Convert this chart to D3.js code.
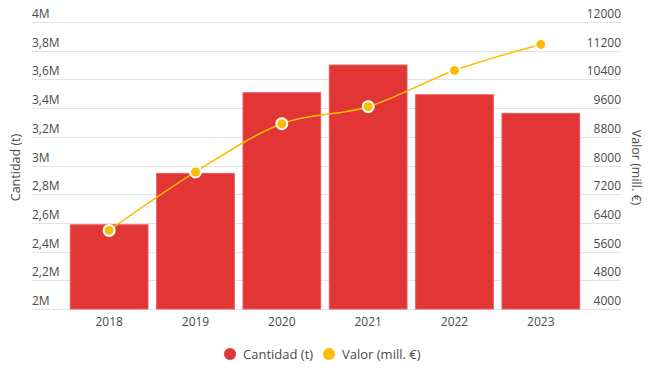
<!DOCTYPE html>
<html>
<head>
<meta charset="utf-8">
<script src="https://cdn.jsdelivr.net/npm/d3@7"></script>
<style>
  body { margin: 0; background: #fff; }
  svg { font-family: "Open Sans", sans-serif; }
</style>
</head>
<body>
<div class="chart"></div>
<script>
const years = ["2018", "2019", "2020", "2021", "2022", "2023"]
const cantidad = [2587000, 2945000, 3507000, 3700000, 3493000, 3363000]
const valor = [6190, 7820, 9165, 9640, 10650, 11375]
const leftTicks = [2e6, 2.2e6, 2.4e6, 2.6e6, 2.8e6, 3e6, 3.2e6, 3.4e6, 3.6e6, 3.8e6, 4e6]
const rightTicks = [4000, 4800, 5600, 6400, 7200, 8000, 8800, 9600, 10400, 11200, 12000]

const w = 650
const h = 370
const gridLeft = 32
const gridRight = 621
const plotTop = 22
const plotBottom = 309
const textColor = "#4a4a4a"
const red = "#e23535"
const yellow = "#fcbc00"

const svg = d3.select(".chart").append("svg").attr("width", w).attr("height", h)

const x = d3.scaleBand().domain(years).range([66, 584]).paddingInner(0.1).paddingOuter(0.05)
const yL = d3.scaleLinear().domain([2e6, 4e6]).range([plotBottom, plotTop])
const yR = d3.scaleLinear().domain([4000, 12000]).range([plotBottom, plotTop])

const fmtM = d => (d / 1e6).toString().replace(".", ",") + "M"

// grid + tick labels
svg.append("g").selectAll("line")
  .data(leftTicks)
  .enter()
  .append("line")
  .attr("x1", gridLeft).attr("x2", gridRight)
  .attr("y1", d => Math.round(yL(d)) + 0.5).attr("y2", d => Math.round(yL(d)) + 0.5)
  .attr("stroke", "#e3e3e3").attr("stroke-width", 1)

svg.append("g").selectAll("text")
  .data(leftTicks)
  .enter()
  .append("text")
  .text(fmtM)
  .attr("x", gridLeft)
  .attr("y", d => yL(d) - 4)
  .attr("font-size", 12)
  .attr("fill", textColor)

svg.append("g").selectAll("text")
  .data(rightTicks)
  .enter()
  .append("text")
  .text(d => d)
  .attr("x", gridRight)
  .attr("y", d => yR(d) - 4)
  .attr("text-anchor", "end")
  .attr("font-size", 12)
  .attr("fill", textColor)

// axis titles
svg.append("text")
  .text("Cantidad (t)")
  .attr("transform", `translate(20,${(plotTop + plotBottom) / 2 + 2}) rotate(-90)`)
  .attr("text-anchor", "middle")
  .attr("font-size", 12.5)
  .attr("fill", textColor)

svg.append("text")
  .text("Valor (mill. €)")
  .attr("transform", `translate(632,${(plotTop + plotBottom) / 2 + 2}) rotate(90)`)
  .attr("text-anchor", "middle")
  .attr("font-size", 12.5)
  .attr("fill", textColor)

// bars
svg.append("g").selectAll("rect")
  .data(years)
  .enter()
  .append("rect")
  .attr("x", d => x(d))
  .attr("width", x.bandwidth())
  .attr("y", (d, i) => yL(cantidad[i]))
  .attr("height", (d, i) => plotBottom - yL(cantidad[i]))
  .attr("fill", red)
  .attr("stroke", "#ec5a5a")
  .attr("stroke-width", 1)

// x labels
svg.append("g").selectAll("text")
  .data(years)
  .enter()
  .append("text")
  .text(d => d)
  .attr("x", d => x(d) + x.bandwidth() / 2)
  .attr("y", 326)
  .attr("text-anchor", "middle")
  .attr("font-size", 12)
  .attr("fill", textColor)

// line
const line = d3.line()
  .x((d, i) => x(years[i]) + x.bandwidth() / 2)
  .y(d => yR(d))
  .curve(d3.curveMonotoneX)

svg.append("path")
  .datum(valor)
  .attr("d", line)
  .attr("fill", "none")
  .attr("stroke", yellow)
  .attr("stroke-width", 1.5)

svg.append("g").selectAll("circle")
  .data(valor)
  .enter()
  .append("circle")
  .attr("cx", (d, i) => x(years[i]) + x.bandwidth() / 2)
  .attr("cy", d => yR(d))
  .attr("r", 5.5)
  .attr("fill", yellow)
  .attr("stroke", "#fff")
  .attr("stroke-width", 2)

// legend
const legend = [
  { label: "Cantidad (t)", color: red, x: 230 },
  { label: "Valor (mill. €)", color: yellow, x: 329 }
]
const lg = svg.append("g").selectAll("g")
  .data(legend)
  .enter()
  .append("g")
  .attr("transform", d => `translate(${d.x},354)`)
lg.append("circle").attr("r", 6).attr("fill", d => d.color)
lg.append("text")
  .text(d => d.label)
  .attr("x", 13)
  .attr("y", 4.5)
  .attr("font-size", 13)
  .attr("fill", textColor)
</script>
</body>
</html>
